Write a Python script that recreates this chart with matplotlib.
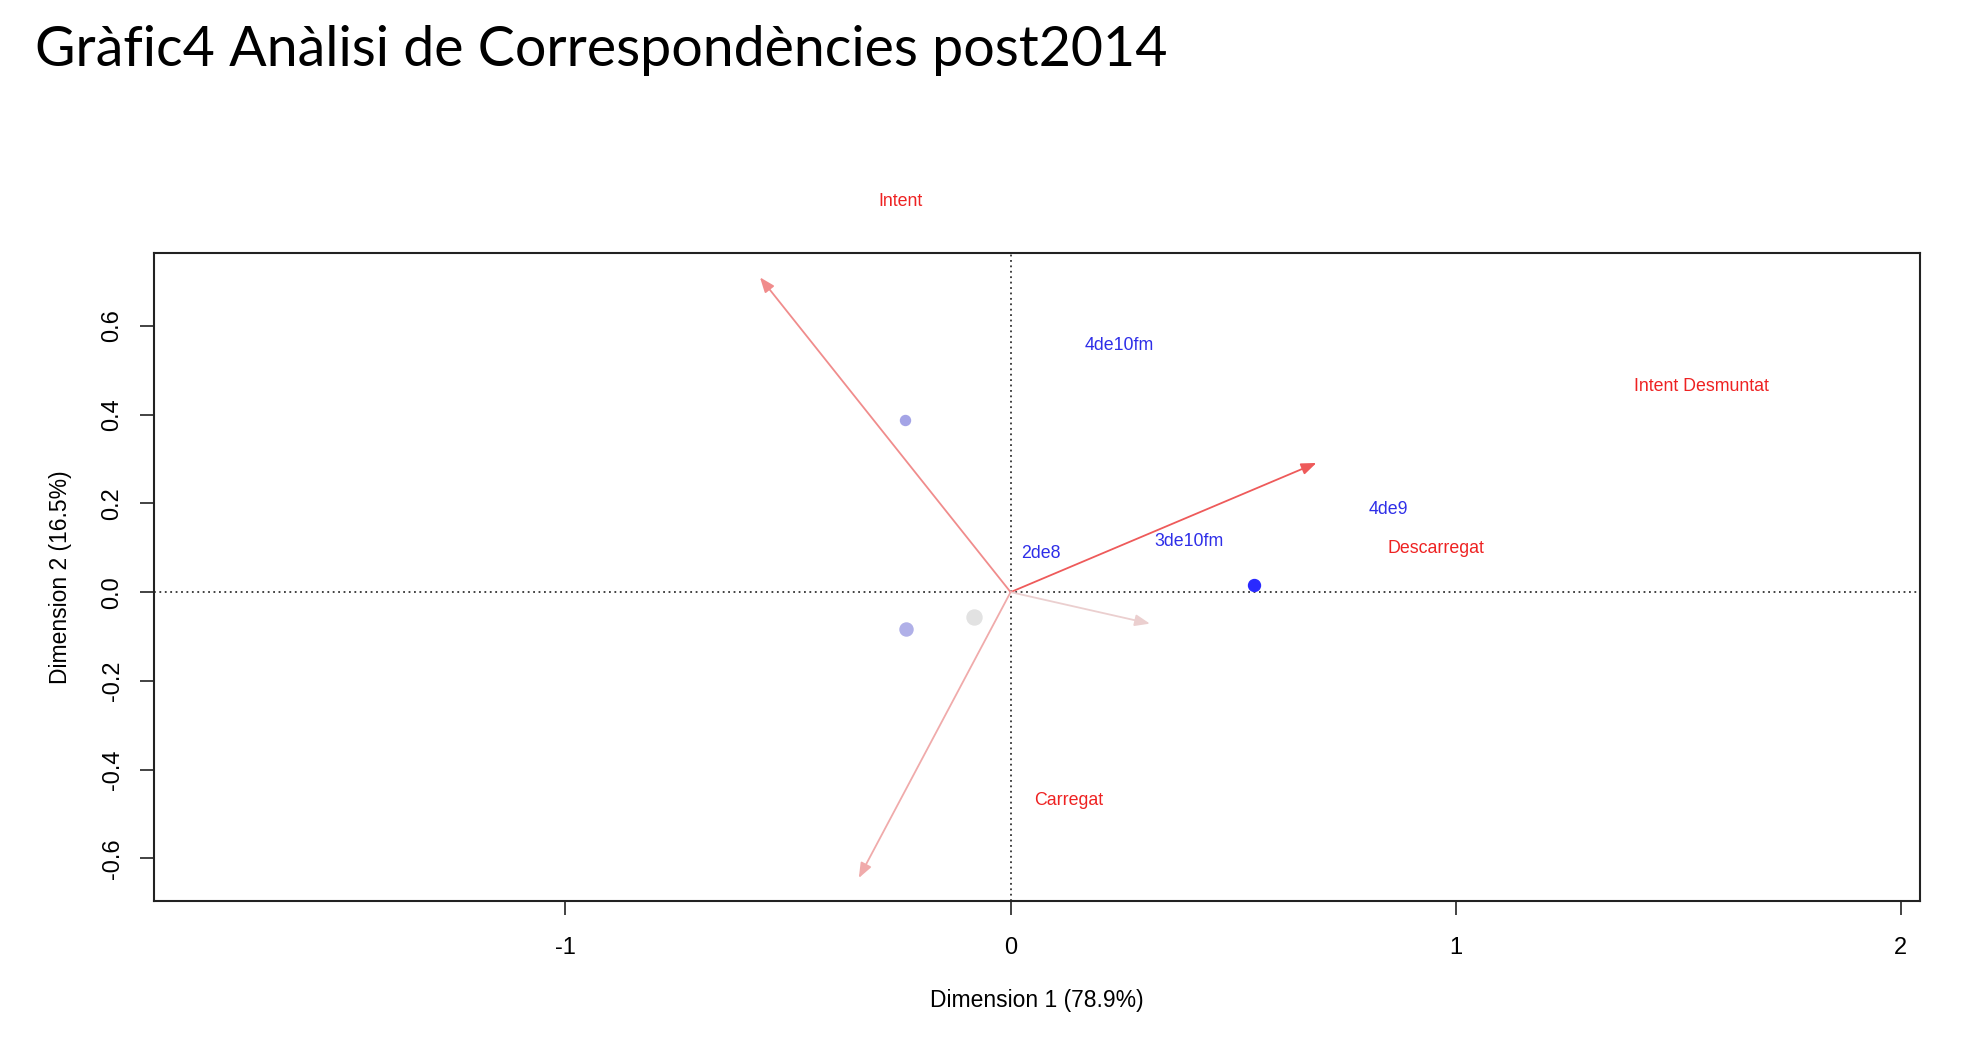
import matplotlib
matplotlib.use("Agg")
import matplotlib.pyplot as plt

# ---------------------------------------------------------------------------
# Data (CA map, symmetric coordinates)
# ---------------------------------------------------------------------------
arrow_x = [-0.563, 0.687, 0.313, -0.341]
arrow_y = [0.709, 0.291, -0.071, -0.644]
arrow_col = ['#F08C8C', '#EE5A5A', '#EBCFCF', '#F0ABAB']

pt_x = [-0.237, -0.234, -0.082, 0.546]
pt_y = [0.387, -0.082, -0.056, 0.017]
pt_col = ['#A4A4E6', '#B0B0E8', '#E2E2E2', '#2A2AFF']
pt_size = [7.2, 9.4, 10.8, 8.6]

col_labels = ['4de10fm', '4de9', '3de10fm', '2de8']
col_x = [0.245, 0.848, 0.400, 0.068]
col_y = [0.556, 0.186, 0.113, 0.088]

row_labels = ['Intent', 'Intent Desmuntat', 'Descarregat', 'Carregat']
row_x = [-0.248, 1.552, 0.955, 0.130]
row_y = [0.879, 0.463, 0.099, -0.469]

x_ticks = [-1, 0, 1, 2]
y_ticks = [-0.6, -0.4, -0.2, 0.0, 0.2, 0.4, 0.6]

RFONT = ['Liberation Sans', 'DejaVu Sans']

# ---------------------------------------------------------------------------
fig = plt.figure(figsize=(19.66, 10.55), dpi=100)
fig.patch.set_facecolor('white')
ax = fig.add_axes([0.0784, 0.1463, 0.898, 0.6135])
ax.set_xlim(-1.924, 2.042)
ax.set_ylim(-0.695, 0.763)

# dotted reference lines through origin
ax.axhline(0, color='#333333', lw=1.3, ls=(0, (1, 2)), zorder=1)
ax.axvline(0, color='#333333', lw=1.3, ls=(0, (1, 2)), zorder=1)

for x, y, c in zip(arrow_x, arrow_y, arrow_col):
    ax.annotate('', xy=(x, y), xytext=(0, 0),
                arrowprops=dict(arrowstyle='-|>,head_length=0.9,head_width=0.35',
                                color=c, lw=1.3, shrinkA=0, shrinkB=0),
                zorder=2)

for x, y, c, s in zip(pt_x, pt_y, pt_col, pt_size):
    ax.plot(x, y, 'o', color=c, ms=s, mec=c, zorder=3)

for t, x, y in zip(col_labels, col_x, col_y):
    ax.text(x, y, t, color='#2E2EE8', fontsize=12.8, family=RFONT,
            ha='center', va='center', zorder=4)
for t, x, y in zip(row_labels, row_x, row_y):
    ax.text(x, y, t, color='#EE2222', fontsize=12.8, family=RFONT,
            ha='center', va='center', clip_on=False, zorder=4)

ax.set_xticks(x_ticks)
ax.set_xticklabels([str(v) for v in x_ticks], family=RFONT, fontsize=17)
ax.set_yticks(y_ticks)
ax.set_yticklabels(['%.1f' % v for v in y_ticks], family=RFONT, fontsize=17,
                   rotation=90, va='center')
ax.tick_params(direction='out', length=10, width=1.2, color='#222222', pad=16)
ax.tick_params(axis='y', pad=12)
for sp in ax.spines.values():
    sp.set_linewidth(1.5)
    sp.set_color('#222222')

ax.set_xlabel('Dimension 1 (78.9%)', family=RFONT, fontsize=16.5, labelpad=22)
ax.set_ylabel('Dimension 2 (16.5%)', family=RFONT, fontsize=16.5, labelpad=21)

fig.text(0.018, 0.976, 'Gràfic4 Anàlisi de Correspondències post2014',
         family=['Lato', 'DejaVu Sans'], fontsize=40, ha='left', va='top')

fig.savefig('out.png', dpi=100)
